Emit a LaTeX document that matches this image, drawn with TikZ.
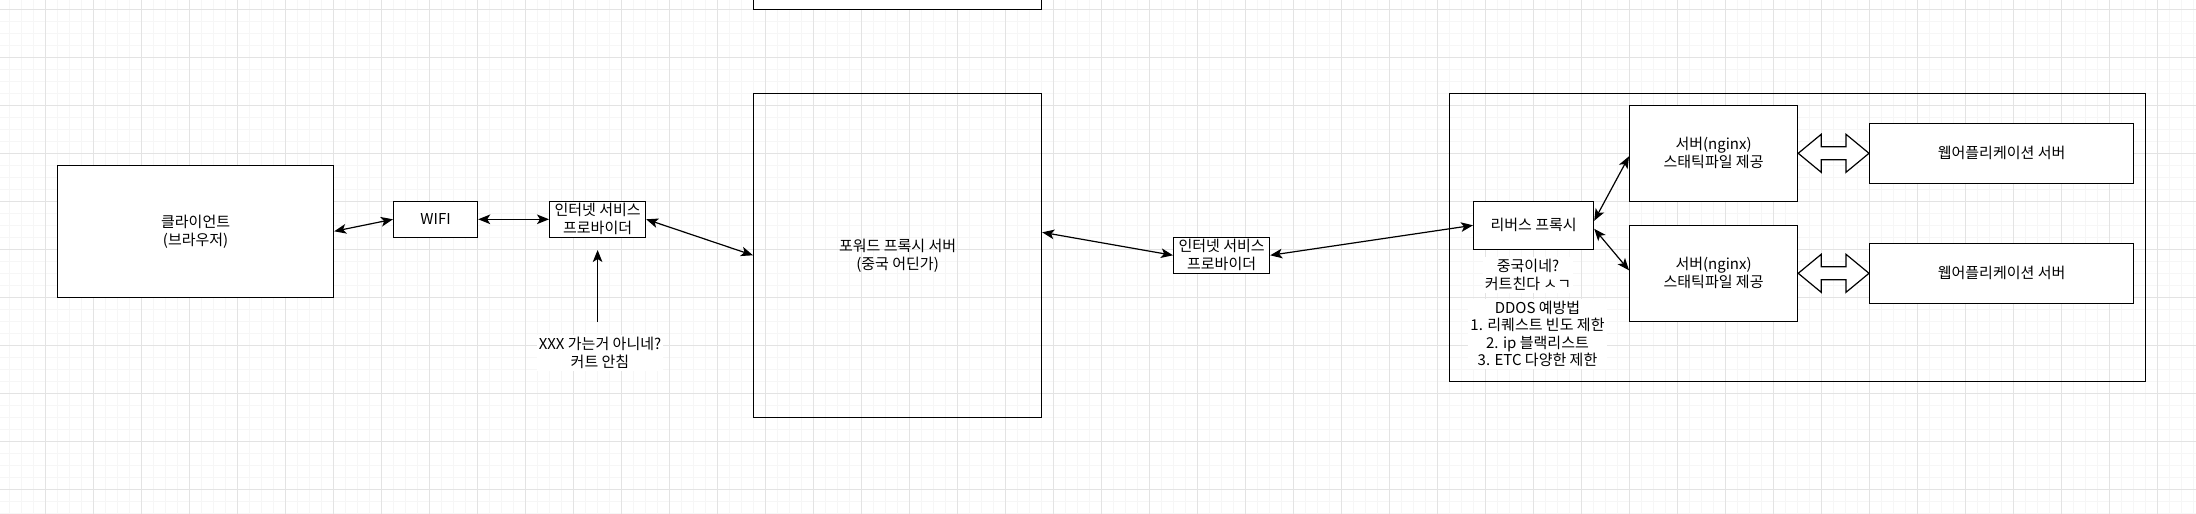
\documentclass[tikz,border=0pt]{standalone}
\usepackage{fontspec}
\setmainfont{Noto Sans CJK KR}
\usetikzlibrary{arrows.meta,calc}
\definecolor{minorgrid}{RGB}{246,246,246}
\definecolor{majorgrid}{RGB}{227,227,227}
\newcommand{\dfont}{\fontsize{7.5pt}{9pt}\selectfont}
\begin{document}
\begin{tikzpicture}[x=0.5pt,y=-0.5pt,
  box/.style={draw=black,line width=0.6pt,fill=white,inner sep=0pt,align=center,font=\dfont},
  hollow/.style={box,fill=none},
  lbl/.style={fill=white,inner sep=1pt,align=center,font=\dfont},
  con/.style={line width=0.6pt,draw=black},
  >={Stealth[length=6pt,width=4.8pt,inset=1.5pt]},
  fat/.style={draw=black,line width=0.6pt,fill=white,line join=miter},
  minorln/.style={draw=minorgrid,line width=0.5pt},
  majorln/.style={draw=majorgrid,line width=0.5pt}]
\useasboundingbox (0,0) rectangle (2196,514);
\clip (0,0) rectangle (2196,514);
\fill[white] (0,0) rectangle (2196,514);
% grid
\foreach \x in {9.6,21.6,...,2196} \draw[minorln] (\x,0) -- (\x,514);
\foreach \y in {9.3,21.3,...,514} \draw[minorln] (0,\y) -- (2196,\y);
\foreach \x in {45.6,93.6,...,2196} \draw[majorln] (\x,0) -- (\x,514);
\foreach \y in {9.3,57.3,...,514} \draw[majorln] (0,\y) -- (2196,\y);

% boxes
\node[box,minimum width=144pt,minimum height=50pt] (topbox) at (897.6,-40.7) {};
\node[box,minimum width=138pt,minimum height=66pt] (client) at (195.6,231.3) {클라이언트\\(브라우저)};
\node[box,minimum width=42pt,minimum height=18pt] (wifi) at (435.6,219.3) {WIFI};
\node[box,minimum width=48pt,minimum height=18pt] (isp1) at (597.6,219.3) {인터넷 서비스\\프로바이더};
\node[hollow,minimum width=144pt,minimum height=162pt] (fwd) at (897.6,255.3) {포워드 프록시 서버\\(중국 어딘가)};
\node[box,minimum width=48pt,minimum height=18pt] (isp2) at (1221.6,255.3) {인터넷 서비스\\프로바이더};
\node[hollow,minimum width=348pt,minimum height=144pt] (cont) at (1797.6,237.3) {};
\node[box,minimum width=60pt,minimum height=24pt] (rp) at (1533.6,225.3) {리버스 프록시};
\node[box,minimum width=84pt,minimum height=48pt] (s1) at (1713.6,153.3) {서버(nginx)\\스태틱파일 제공};
\node[box,minimum width=84pt,minimum height=48pt] (s2) at (1713.6,273.3) {서버(nginx)\\스태틱파일 제공};
\node[box,minimum width=132pt,minimum height=30pt] (w1) at (2001.6,153.3) {웹어플리케이션 서버};
\node[box,minimum width=132pt,minimum height=30pt] (w2) at (2001.6,273.3) {웹어플리케이션 서버};

% labels
\node[lbl] (xlab) at (600,353) {XXX 가는거 아니네?\\커트 안침};
\node[lbl] (cn) at (1528,275) {중국이네?\\커트친다 ㅅㄱ};
\node[lbl,font=\fontsize{7.5pt}{8.7pt}\selectfont] (ddos) at (1537.5,334) {DDOS 예방법\\1. 리퀘스트 빈도 제한\\2. ip 블랙리스트\\3. ETC 다양한 제한};

% connectors
\draw[con,<->] (client.east) -- (wifi.west);
\draw[con,<->] (wifi.east) -- (isp1.west);
\draw[con,<->] (isp1.east) -- (fwd.west);
\draw[con,<->] ($(fwd.east)+(0,-23)$) -- (isp2.west);
\draw[con,<->] (isp2.east) -- (rp.west);
\draw[con,<->] ($(rp.east)+(0,-4.5)$) -- ($(s1.west)+(0,3)$);
\draw[con,<->] ($(rp.east)+(0,3.5)$) -- ($(s2.west)+(0,-3)$);
\coordinate (xs) at (597.6,322);
\coordinate (xt) at (597.6,250);
\draw[con,->] (xs) -- (xt);

% double flex arrows
\foreach \a/\b in {s1/w1,s2/w2}{
  \draw[fat] (\a.east) -- ++(23,-19) -- ++(0,12.5) -- ($(\b.west)+(-23,-6.5)$)
    -- ++(0,-12.5) -- (\b.west) -- ++(-23,19) -- ++(0,-12.5)
    -- ($(\a.east)+(23,6.5)$) -- ++(0,12.5) -- cycle;
}
\end{tikzpicture}
\end{document}
